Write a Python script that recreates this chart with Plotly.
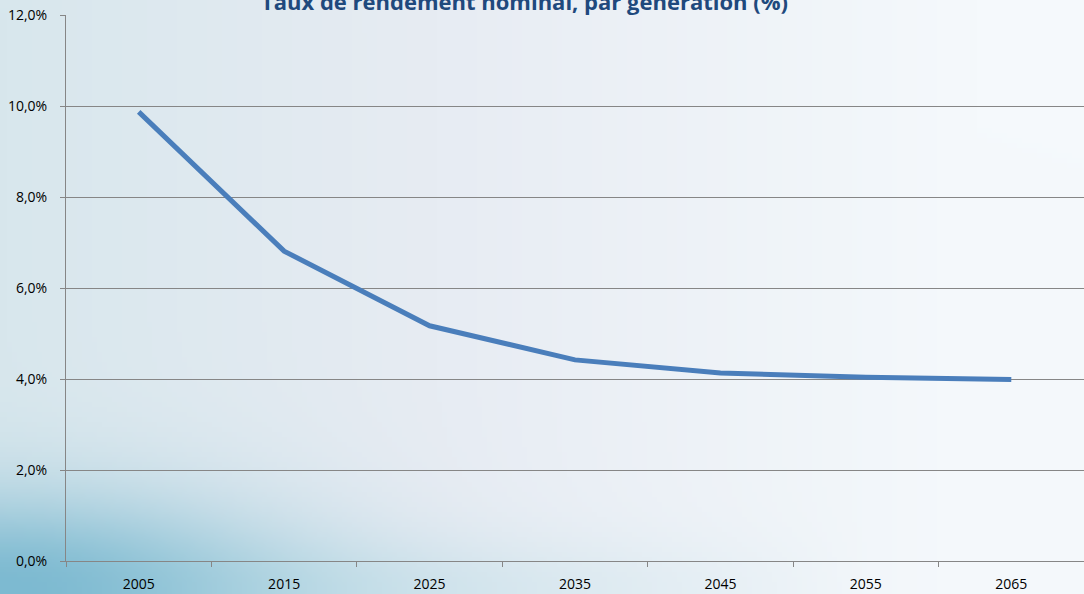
import base64, struct, zlib, math
import plotly.graph_objects as go

# ---- data ----
years = ["2005", "2015", "2025", "2035", "2045", "2055", "2065"]
rates = [9.87, 6.81, 5.17, 4.42, 4.13, 4.04, 3.99]
y_ticks = [0, 2, 4, 6, 8, 10, 12]
y_tick_labels = ["0,0%", "2,0%", "4,0%", "6,0%", "8,0%", "10,0%", "12,0%"]
title_text = "Taux de rendement nominal, par génération (%)"

W, H = 1084, 594
L, R, T, B = 66, 0, 15, 33
PW, PH = W - L - R, H - T - B

# ---- background gradient image (decoration) ----
def make_png(w, h, fn):
    rows = []
    for j in range(h):
        row = bytearray([0])
        for i in range(w):
            r, g, b = fn(i / (w - 1), j / (h - 1))
            row += bytes([int(r), int(g), int(b)])
        rows.append(bytes(row))
    raw = b"".join(rows)
    def chunk(tag, data):
        c = struct.pack(">I", len(data)) + tag + data
        return c + struct.pack(">I", zlib.crc32(tag + data) & 0xffffffff)
    return (b"\x89PNG\r\n\x1a\n" + chunk(b"IHDR", struct.pack(">IIBBBBB", w, h, 8, 2, 0, 0, 0))
            + chunk(b"IDAT", zlib.compress(raw, 9)) + chunk(b"IEND", b""))

def lerp(a, b, t):
    return [a[k] + (b[k] - a[k]) * t for k in range(3)]

def bg(u, v):
    left = (216, 231, 237)
    mid = (231, 236, 243)
    right = (245, 249, 252)
    if u < 0.4:
        c = lerp(left, mid, u / 0.4)
    else:
        c = lerp(mid, right, min(1, (u - 0.4) / 0.5))
    # light teal band along the bottom
    band = math.exp(-((1 - v) / 0.09) ** 2) * max(0.0, 1 - u / 0.8)
    c = lerp(c, (190, 222, 231), band * 0.9)
    # strong teal in bottom-left corner
    f = (u / 0.3) ** 2 + ((1 - v) / 0.2) ** 2
    w = math.exp(-1.5 * f)
    c = lerp(c, (125, 186, 209), w)
    return [max(0, min(255, x)) for x in c]

png = make_png(217, 119, bg)
src = "data:image/png;base64," + base64.b64encode(png).decode()

fig = go.Figure()
fig.add_trace(go.Scatter(
    x=years, y=rates, mode="lines",
    line=dict(color="rgb(74,126,187)", width=5),
    hoverinfo="skip", showlegend=False,
))

grid = "rgb(134,134,134)"
fig.update_layout(
    width=W, height=H,
    margin=dict(l=L, r=R, t=T, b=B, pad=0),
    paper_bgcolor="white",
    plot_bgcolor="rgba(0,0,0,0)",
    font=dict(family="Open Sans, sans-serif", size=14, color="black"),
    images=[dict(source=src, xref="paper", yref="paper",
                 x=-L / PW, y=1 + T / PH, sizex=W / PW, sizey=H / PH,
                 xanchor="left", yanchor="top", sizing="stretch", layer="below")],
    xaxis=dict(type="category", range=[-0.5, 6.5], showgrid=False,
               showline=True, linecolor=grid, linewidth=1,
               ticks="outside", tickson="boundaries", ticklen=5, tickcolor=grid,
               ticklabelstandoff=10, zeroline=False),
    yaxis=dict(range=[0, 12], tickvals=y_ticks, ticktext=y_tick_labels,
               showgrid=True, gridcolor=grid, gridwidth=1,
               showline=True, linecolor=grid, linewidth=1,
               ticks="outside", ticklen=5, tickcolor=grid,
               ticklabelstandoff=10, zeroline=False),
    annotations=[dict(text="<b>" + title_text + "</b>", xref="paper", yref="paper",
                      x=(524 - L) / PW, y=1 + (T - 1) / PH, xanchor="center", yanchor="middle",
                      showarrow=False,
                      font=dict(family="Open Sans, sans-serif", size=22, color="rgb(31,73,125)"))],
)

fig.write_html("out.html", config={"displayModeBar": False, "staticPlot": True},
               post_script="document.body.style.margin='0';document.body.style.overflow='hidden';")
